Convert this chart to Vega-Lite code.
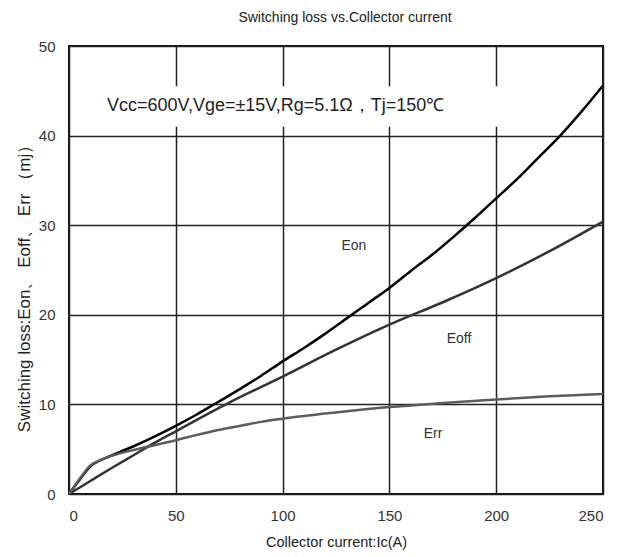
{
  "$schema": "https://vega.github.io/schema/vega-lite/v6.json",
  "autosize": "none",
  "width": 534,
  "height": 448,
  "padding": {"left": 69, "top": 46, "right": 21, "bottom": 63},
  "background": "white",
  "title": {
    "text": "Switching loss vs.Collector current",
    "font": "Liberation Sans",
    "fontSize": 14,
    "fontWeight": "normal",
    "color": "#222",
    "offset": 14,
    "dx": 9
  },
  "config": {
    "view": {"stroke": "#111", "strokeWidth": 2},
    "axis": {
      "domain": false,
      "ticks": false,
      "grid": true,
      "gridColor": "#222",
      "gridWidth": 1.5,
      "gridOpacity": 1,
      "labelFont": "Liberation Sans",
      "labelFontSize": 15,
      "labelColor": "#333",
      "titleFont": "Liberation Sans",
      "titleFontWeight": "normal",
      "titleColor": "#222"
    }
  },
  "datasets": {
    "curves": [
      {"current": 0, "loss": 0, "series": "Eon"},
      {"current": 5, "loss": 1.6, "series": "Eon"},
      {"current": 10, "loss": 3.1, "series": "Eon"},
      {"current": 15, "loss": 3.8, "series": "Eon"},
      {"current": 20, "loss": 4.3, "series": "Eon"},
      {"current": 25, "loss": 4.8, "series": "Eon"},
      {"current": 30, "loss": 5.3, "series": "Eon"},
      {"current": 40, "loss": 6.4, "series": "Eon"},
      {"current": 50, "loss": 7.6, "series": "Eon"},
      {"current": 60, "loss": 8.9, "series": "Eon"},
      {"current": 70, "loss": 10.3, "series": "Eon"},
      {"current": 80, "loss": 11.7, "series": "Eon"},
      {"current": 90, "loss": 13.2, "series": "Eon"},
      {"current": 100, "loss": 14.8, "series": "Eon"},
      {"current": 110, "loss": 16.3, "series": "Eon"},
      {"current": 120, "loss": 17.9, "series": "Eon"},
      {"current": 130, "loss": 19.6, "series": "Eon"},
      {"current": 140, "loss": 21.3, "series": "Eon"},
      {"current": 150, "loss": 23.0, "series": "Eon"},
      {"current": 160, "loss": 24.9, "series": "Eon"},
      {"current": 170, "loss": 26.7, "series": "Eon"},
      {"current": 180, "loss": 28.7, "series": "Eon"},
      {"current": 190, "loss": 30.8, "series": "Eon"},
      {"current": 200, "loss": 33.0, "series": "Eon"},
      {"current": 210, "loss": 35.2, "series": "Eon"},
      {"current": 220, "loss": 37.6, "series": "Eon"},
      {"current": 230, "loss": 40.0, "series": "Eon"},
      {"current": 240, "loss": 42.7, "series": "Eon"},
      {"current": 250, "loss": 45.6, "series": "Eon"},
      {"current": 0, "loss": 0, "series": "Eoff"},
      {"current": 10, "loss": 1.45, "series": "Eoff"},
      {"current": 20, "loss": 2.9, "series": "Eoff"},
      {"current": 30, "loss": 4.3, "series": "Eoff"},
      {"current": 40, "loss": 5.7, "series": "Eoff"},
      {"current": 50, "loss": 7.0, "series": "Eoff"},
      {"current": 75, "loss": 10.2, "series": "Eoff"},
      {"current": 100, "loss": 13.1, "series": "Eoff"},
      {"current": 125, "loss": 16.1, "series": "Eoff"},
      {"current": 150, "loss": 18.9, "series": "Eoff"},
      {"current": 175, "loss": 21.4, "series": "Eoff"},
      {"current": 200, "loss": 24.1, "series": "Eoff"},
      {"current": 225, "loss": 27.1, "series": "Eoff"},
      {"current": 250, "loss": 30.4, "series": "Eoff"},
      {"current": 0, "loss": 0, "series": "Err"},
      {"current": 5, "loss": 1.7, "series": "Err"},
      {"current": 10, "loss": 3.2, "series": "Err"},
      {"current": 15, "loss": 3.8, "series": "Err"},
      {"current": 20, "loss": 4.25, "series": "Err"},
      {"current": 30, "loss": 4.9, "series": "Err"},
      {"current": 40, "loss": 5.45, "series": "Err"},
      {"current": 50, "loss": 6.0, "series": "Err"},
      {"current": 60, "loss": 6.6, "series": "Err"},
      {"current": 70, "loss": 7.15, "series": "Err"},
      {"current": 80, "loss": 7.6, "series": "Err"},
      {"current": 90, "loss": 8.05, "series": "Err"},
      {"current": 100, "loss": 8.4, "series": "Err"},
      {"current": 125, "loss": 9.1, "series": "Err"},
      {"current": 150, "loss": 9.7, "series": "Err"},
      {"current": 175, "loss": 10.15, "series": "Err"},
      {"current": 200, "loss": 10.55, "series": "Err"},
      {"current": 225, "loss": 10.9, "series": "Err"},
      {"current": 250, "loss": 11.15, "series": "Err"}
    ],
    "labels": [
      {"current": 133.4, "loss": 27.7, "label": "Eon"},
      {"current": 182.6, "loss": 17.3, "label": "Eoff"},
      {"current": 170.4, "loss": 6.7, "label": "Err"}
    ],
    "note": [
      {"current": 17.8, "loss": 43.3, "label": "Vcc=600V,Vge=±15V,Rg=5.1Ω，Tj=150℃", "x0": 1, "x1": 225, "y0": 41, "y1": 45.5}
    ]
  },
  "layer": [
    {
      "data": {"name": "note"},
      "mark": {"type": "rect", "fill": "white", "strokeWidth": 0},
      "encoding": {
        "x": {"field": "x0", "type": "quantitative", "scale": {"domain": [0, 250], "nice": false}},
        "x2": {"field": "x1"},
        "y": {"field": "y0", "type": "quantitative", "scale": {"domain": [0, 50], "nice": false}},
        "y2": {"field": "y1"}
      }
    },
    {
      "data": {"name": "curves"},
      "mark": {"type": "line", "interpolate": "monotone", "strokeWidth": 2.5},
      "encoding": {
        "x": {
          "field": "current",
          "type": "quantitative",
          "scale": {"domain": [0, 250], "nice": false},
          "axis": {"values": [0, 50, 100, 150, 200, 250], "labelPadding": 14, "title": "Collector current:Ic(A)", "titleFontSize": 14.5, "titlePadding": 12}
        },
        "y": {
          "field": "loss",
          "type": "quantitative",
          "scale": {"domain": [0, 50], "nice": false},
          "axis": {"values": [0, 10, 20, 30, 40, 50], "labelPadding": 14, "title": "Switching loss:Eon、 Eoff、 Err （mj）", "titleFontSize": 17, "titlePadding": 5, "titleY": 238}
        },
        "color": {
          "field": "series",
          "type": "nominal",
          "scale": {"domain": ["Err", "Eoff", "Eon"], "range": ["#5c5c5c", "#333333", "#000000"]},
          "legend": null
        },
        "order": {"field": "series", "sort": "descending"}
      }
    },
    {
      "data": {"name": "note"},
      "mark": {"type": "text", "font": "Liberation Sans", "fontSize": 18, "align": "left", "baseline": "middle", "color": "#222"},
      "encoding": {
        "x": {"field": "current", "type": "quantitative"},
        "y": {"field": "loss", "type": "quantitative"},
        "text": {"field": "label"}
      }
    },
    {
      "data": {"name": "labels"},
      "mark": {"type": "text", "font": "Liberation Sans", "fontSize": 14, "align": "center", "baseline": "middle", "color": "#333"},
      "encoding": {
        "x": {"field": "current", "type": "quantitative"},
        "y": {"field": "loss", "type": "quantitative"},
        "text": {"field": "label"}
      }
    }
  ]
}
